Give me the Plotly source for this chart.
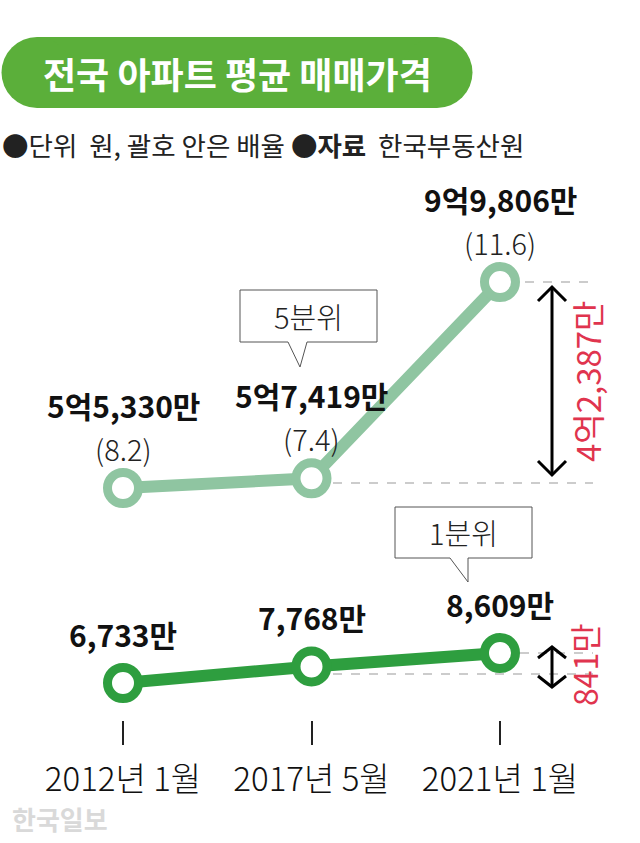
import plotly.graph_objects as go

# ---------------- data ----------------
periods = ["2012년 1월", "2017년 5월", "2021년 1월"]
top_prices = [55330, 57419, 99806]          # 5분위, 만원
top_labels = ["5억5,330만", "5억7,419만", "9억9,806만"]
top_ratio = ["(8.2)", "(7.4)", "(11.6)"]
bottom_prices = [6733, 7768, 8609]          # 1분위, 만원
bottom_labels = ["6,733만", "7,768만", "8,609만"]
gap_top = "4억2,387만"
gap_bottom = "841만"

W, H = 640, 843
FONT = "Noto Sans CJK KR"
LIGHT = "#8FC5A1"
DARK = "#2E9E3F"
RED = "#E0344E"
PILL = "#5BAF3A"

def px(x):
    return x / W

def py(y):
    return 1 - y / H

def yrange(va, pa, vb, pb):
    s = (pa - pb) / (vb - va)
    top = vb + pb / s
    return [top - H / s, top]

xs = list(range(len(periods)))
x_step = 188.5
x_left = -123 / x_step

fig = go.Figure()
fig.add_trace(go.Scatter(
    x=xs, y=top_prices, mode="lines+markers", yaxis="y",
    line=dict(color=LIGHT, width=12),
    marker=dict(size=31, color="white", line=dict(color=LIGHT, width=9)),
    hoverinfo="skip", showlegend=False))
fig.add_trace(go.Scatter(
    x=xs, y=bottom_prices, mode="lines+markers", yaxis="y2",
    line=dict(color=DARK, width=12),
    marker=dict(size=31, color="white", line=dict(color=DARK, width=9)),
    hoverinfo="skip", showlegend=False))

ann = []
C = dict(xanchor="center", yanchor="middle", showarrow=False)
# value labels tied to data points
for i in xs:
    ann.append(dict(x=i, y=top_prices[i], xref="x", yref="y", text=f"<b>{top_labels[i]}</b>",
                    yshift=83, font=dict(family=FONT, size=30, color="#111"), **C))
    ann.append(dict(x=i, y=top_prices[i], xref="x", yref="y", text=top_ratio[i],
                    yshift=40, font=dict(family=FONT, size=29, color="#222", weight=300), **C))
    ann.append(dict(x=i, y=bottom_prices[i], xref="x", yref="y2", text=f"<b>{bottom_labels[i]}</b>",
                    yshift=49, font=dict(family=FONT, size=30, color="#111"), **C))

# title
ann.append(dict(x=px(237), y=py(73), xref="paper", yref="paper", text="<b>전국 아파트 평균 매매가격</b>",
                font=dict(family=FONT, size=36, color="white"), **C))
# subtitle
sub = "●단위\u00a0\u00a0원, 괄호 안은 배율 ●<b>자료</b>\u00a0\u00a0한국부동산원"
ann.append(dict(x=0, y=py(144), xref="paper", yref="paper", text=sub, xanchor="left", yanchor="middle",
                showarrow=False, font=dict(family=FONT, size=26.5, color="#222")))
# callouts
ann.append(dict(x=px(308), y=py(316), xref="paper", yref="paper", text="5분위",
                font=dict(family=FONT, size=29, color="#222", weight=300), **C))
ann.append(dict(x=px(463), y=py(532), xref="paper", yref="paper", text="1분위",
                font=dict(family=FONT, size=29, color="#222", weight=300), **C))
# gap labels
ann.append(dict(x=px(587), y=py(382), xref="paper", yref="paper", text=gap_top, textangle=-90,
                font=dict(family=FONT, size=33, color=RED), **C))
ann.append(dict(x=px(584), y=py(665), xref="paper", yref="paper", text=gap_bottom, textangle=-90,
                font=dict(family=FONT, size=32, color=RED), **C))
# watermark
ann.append(dict(x=px(60), y=py(818), xref="paper", yref="paper", text="<b>한국일보</b>",
                font=dict(family=FONT, size=26, color="#D9D9D9"), **C))

shapes = []
# pill
shapes.append(dict(type="rect", xref="paper", yref="paper", x0=px(37), x1=px(437), y0=py(108), y1=py(37),
                   fillcolor=PILL, line=dict(width=0), layer="below"))
for cx in (37, 437):
    shapes.append(dict(type="circle", xref="paper", yref="paper", x0=px(cx - 35.5), x1=px(cx + 35.5),
                       y0=py(108), y1=py(37), fillcolor=PILL, line=dict(width=0), layer="below"))

def path(points, close=False):
    s = "M " + " L ".join(f"{px(a)},{py(b)}" for a, b in points)
    return s + (" Z" if close else "")

# callout boxes
shapes.append(dict(type="path", xref="paper", yref="paper",
                   path=path([(240, 290), (377, 290), (377, 342), (307, 342), (300, 367), (288, 342), (240, 342)], True),
                   fillcolor="white", line=dict(color="#555", width=1)))
shapes.append(dict(type="path", xref="paper", yref="paper",
                   path=path([(395, 507), (532, 507), (532, 558), (468, 558), (468, 582), (450, 558), (395, 558)], True),
                   fillcolor="white", line=dict(color="#555", width=1)))
# dashed guides
for (xa, xb, yy) in [(525, 593, 282), (333, 593, 483), (520, 593, 653), (333, 593, 674)]:
    shapes.append(dict(type="line", xref="paper", yref="paper", x0=px(xa), x1=px(xb), y0=py(yy), y1=py(yy),
                       line=dict(color="#999", width=1, dash="dash"), layer="below"))
# double arrows
for (ya, yb) in [(287, 475), (647, 687)]:
    shapes.append(dict(type="line", xref="paper", yref="paper", x0=px(552), x1=px(552), y0=py(ya), y1=py(yb),
                       line=dict(color="black", width=3)))
    hh = 14 if yb - ya > 100 else 11
    shapes.append(dict(type="path", xref="paper", yref="paper",
                       path=path([(538, ya + hh), (552, ya), (566, ya + hh)]), line=dict(color="black", width=3)))
    shapes.append(dict(type="path", xref="paper", yref="paper",
                       path=path([(538, yb - hh), (552, yb), (566, yb - hh)]), line=dict(color="black", width=3)))

fig.update_layout(
    width=W, height=H, margin=dict(l=0, r=0, t=0, b=0),
    paper_bgcolor="white", plot_bgcolor="white",
    xaxis=dict(range=[x_left, x_left + W / x_step], tickvals=xs, ticktext=periods,
               showgrid=False, zeroline=False, showline=False,
               ticks="outside", ticklen=24, tickwidth=1.5, tickcolor="#222",
               anchor="free", position=py(720), ticklabelstandoff=6,
               tickfont=dict(family=FONT, size=33, color="#111", weight=300)),
    yaxis=dict(range=yrange(top_prices[0], 488, top_prices[2], 282), visible=False, fixedrange=True),
    yaxis2=dict(range=yrange(bottom_prices[0], 683, bottom_prices[2], 653), visible=False,
                overlaying="y", fixedrange=True),
    annotations=ann, shapes=shapes, showlegend=False,
)
fig.write_html("out.html")
